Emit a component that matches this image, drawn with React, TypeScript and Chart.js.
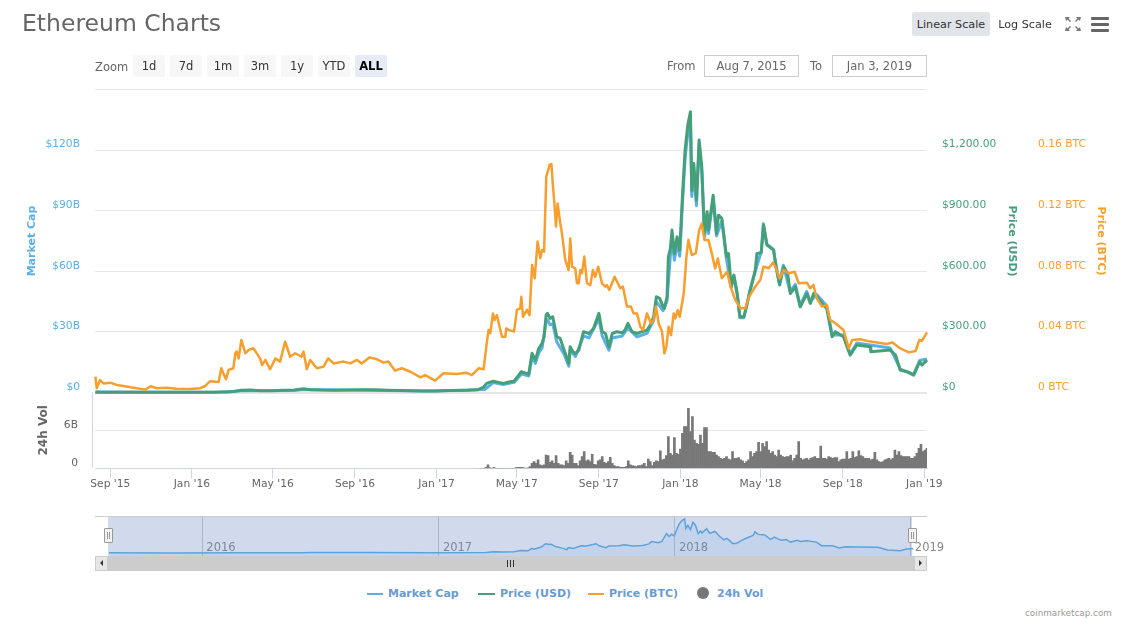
import React, { useEffect, useRef } from "react";
import { Chart, registerables } from "chart.js";

Chart.register(...registerables);

// All series: [days since Aug 7 2015, value]
const priceBtc: [number, number][] = [
  [2.6, .0104], [4.6, .0028], [9.6, .0082], [14.6, .006], [24.5, .0065], [34.5, .005], [44.5, .0043], [59.5, .0032], [77, .0019], [85.4, .0041], [94.4, .0028], [109, .0032], [124, .0025], [144, .0023], [159, .0028], [167, .0043], [174, .0074], [187, .007], [191, .016], [194, .0127], [198, .0087], [202, .0149], [209, .016], [212, .0259], [214, .027], [217, .0225], [221, .0347], [227, .0259], [232, .0281], [239, .0292], [249, .0225], [252, .0181], [257, .0215], [264, .0153], [272, .0225], [279, .0204], [286.5, .0336], [294, .0236], [301.5, .0259], [311, .0236], [314, .027], [319, .0153], [324, .0215], [334, .016], [344, .0171], [351, .0225], [359, .0192], [374, .0204], [384, .0192], [394, .0215], [401, .0192], [413, .0232], [424, .0219], [434, .0197], [441, .0204], [451, .0144], [461, .016], [474, .0137], [489, .01], [496, .0115], [511, .0078], [523.5, .0127], [543, .0122], [558, .013], [566, .0115], [576, .016],
  [583.5, .0153], [586, .0247], [589.5, .0369], [591, .0413], [593.5, .0391], [597.5, .0522], [600, .0478], [603.4, .0511], [607.4, .0434], [611, .0368], [616, .0368], [617.4, .0423], [621, .0413], [629, .0402], [633.4, .0545], [638.4, .0556], [640, .0632], [642.4, .05], [648.3, .0545], [652.3, .0511], [656, .0842], [660, .0754], [664.3, .0996], [668.3, .0886], [671, .0941], [674, .093], [677.3, .1425], [682.3, .1502], [685, .1508], [687.3, .1359], [689.3, .1259], [691.8, .1095], [694.2, .1248], [698.2, .1117], [700.7, .1051], [705.7, .0875], [710.7, .0808], [713.2, .1017], [715.7, .0831], [720.7, .082], [723.2, .0721], [725.7, .0721], [728.2, .0808], [730.7, .0787], [734.2, .0897], [738.2, .0721], [743.2, .0709], [747.1, .0808], [750.6, .0764], [755, .083], [760.6, .0721], [765.6, .0699], [768, .0709], [771.6, .0677], [775.6, .0721], [779.6, .0764], [788, .0688], [792, .0699], [798, .0567], [804, .0567], [808, .0522], [813, .0522], [818, .0434], [822, .0413], [828, .0522], [834, .0456], [838, .0478], [841.5, .0567], [845.5, .0456], [850.5, .0402], [854, .0258], [857, .0302], [860.4, .0434], [864, .0379], [868, .0522], [870.4, .0489], [874, .0544], [877, .05], [883, .0654], [887, .0896], [890, .1006],
  [895, .0907], [901, .0918], [906, .107], [910, .1116], [914, .1006], [920, .1006], [925, .0918], [930, .0819], [934, .0885], [940, .0754], [948, .0797], [953, .0699], [960, .0611], [968, .0556], [975, .0556], [981, .0633], [990, .0699], [997.5, .0743], [1002.5, .0831], [1010, .082], [1016.5, .0857], [1020, .0831], [1026.5, .0754], [1032.5, .0809], [1040, .0787], [1049, .0797], [1055, .0721], [1067.4, .0725], [1072, .0688], [1077, .071], [1082, .0622], [1090, .0567], [1097, .0578], [1102, .0479], [1110, .0457], [1122, .0413], [1130, .0291], [1135, .0347], [1147, .0351], [1162, .0336], [1187, .032], [1195, .0331], [1207, .0291], [1220, .0265], [1230, .0274], [1235.5, .0347], [1239.5, .0342], [1247, .0397],
];

const priceUsd: [number, number][] = [
  [2.6, 2.8], [4.6, 1.2], [10, 1.3], [30, 1.3], [60, .9], [90, .9], [120, .9], [150, .95], [170, 1], [180, 1.5], [190, 2.5], [200, 4], [210, 5.5], [221, 11], [235, 12], [250, 9], [265, 9], [285, 11], [300, 13], [314, 19], [325, 14], [340, 12], [360, 11], [380, 12], [400, 13], [420, 13], [440, 11], [460, 10], [490, 8], [510, 8], [530, 10.5], [560, 11], [575, 14], [583, 25],
  [588, 45], [598, 56], [606, 50], [613, 45], [623, 53], [629, 56], [636, 86], [640, 103], [651, 91], [656, 194], [661, 160], [666, 218], [671, 243], [674, 276], [677, 383], [679, 392], [683, 367], [687, 375], [693, 276], [698, 268], [704, 210], [711, 144], [713, 226], [717, 202], [721, 193], [726, 210], [733, 301], [741, 292], [748, 317], [756, 392], [761, 301], [766, 292], [771, 226], [776, 292], [783, 301], [791, 296], [795, 309], [799.5, 342], [805.5, 301], [813, 292], [820.5, 301], [828, 309], [833, 334], [838, 375], [842, 474], [847, 466], [852, 425], [854, 416], [858, 474],
  [860, 672], [863, 713], [865.4, 804], [869, 688], [873, 771], [877, 705], [881, 969], [885, 1200], [889, 1324], [893, 1390], [895, 1000], [898, 1134], [902, 952], [906, 1250], [910, 1117], [914, 787], [918, 895], [920, 804], [927, 977], [932, 787], [935, 878], [940, 862], [947, 672], [950, 688], [954, 523], [958, 581], [963, 490], [967, 375], [973, 375], [977.5, 433], [982.5, 507], [990, 606], [992.5, 688], [999, 692], [1002.5, 829], [1007.5, 730], [1017.5, 705], [1021, 622], [1026.5, 532], [1032.5, 622], [1038.4, 590], [1042.5, 490], [1050, 523], [1057.4, 424], [1067.4, 490], [1072.4, 441], [1077.4, 490], [1082.4, 474], [1090, 441], [1097, 416], [1105, 276], [1110, 301], [1122, 276], [1132, 185], [1142, 235], [1162, 227], [1163, 202], [1192, 210], [1200, 185], [1207, 111], [1217, 103], [1227, 86], [1236, 152], [1239.5, 136], [1247, 160],
];

// Market cap, billions of USD
const marketCapB: [number, number][] = [
  [2.6, .2], [100, .07], [200, .3], [221, .85], [300, 1], [314, 1.5], [400, 1.1], [510, .7], [585, 1.5], [598, 4.9], [613, 3.9], [629, 5], [640, 9.2], [651, 8.2], [656, 17.5], [661, 14.4], [666, 19.7], [671, 22], [677, 35], [679, 36], [683, 33.5], [687, 34], [693, 25], [704, 19], [711, 13], [713, 20.8], [721, 17.8], [733, 28], [741, 27], [756, 36.5], [761, 28], [771, 21], [776, 27], [791, 28], [799.5, 32], [813, 27.5], [828, 29.3], [838, 35.7], [842, 45], [852, 40.5], [858, 45.3], [865, 77], [869, 65.5], [873, 74], [877, 67.5], [881, 93], [885, 116], [889, 128], [893, 135], [895, 97], [898, 110], [902, 92.5], [906, 122], [910, 109], [914, 77], [918, 87.5], [920, 78.7], [927, 96], [932, 77.5], [940, 85], [947, 66], [954, 52], [958, 57.5], [963, 48.5], [967, 37], [973, 37], [982, 50.5], [990, 60], [999, 69.8], [1002, 83.5], [1007, 73.5], [1017, 71], [1026, 54], [1032, 63], [1042, 50], [1050, 53.5], [1057, 43], [1067, 50], [1072, 45], [1082, 48.5], [1097, 42.8], [1105, 28.5], [1122, 28.5], [1132, 19.2], [1142, 24.5], [1162, 23.5], [1192, 22], [1207, 11.6], [1227, 9], [1236, 15.8], [1247, 16.6],
];

// 24h volume in billions of USD, one value every 3 days from day 578
const volumeStartDay = 578;
const volumeStepDays = 3;
const volumeB: number[] = [
  0, 0, 0, .16, .53, .11, 0, .16, 0, 0, 0, 0, 0, 0, 0, 0, 0, 0, .11, .16, .16, .16, .05, 0, .05, .26, .79, 1.05, .79, 1.32, .53, .42, .53, 2.1, 2, .95, 1.16, .79, 2, .79, .53, .53, .42, 1.16, .79, 2.52, 2.1, .79, .79, .42, 1.16, 1.84, 2.63, 1.16, 1.32, 1.05, 2.21, .63, .53, 1.16, 1.32, 1.84, .95, .79, 1.05, 1.74, .79, .42, .26, .26, .16, .16, .16, .26, 1.16, .53, .42, .37, .26, .42, .42, .53, .79, .26, 1.47, 1.05, .42, .95, 1.16, 1.05, 2.74, 1.32, 1.47, 2, 5, 2.37, 2.1, 4.84, 2.37, 2.21, 3.05, 5.52, 6.58, 6.58, 9.47, 5.79, 8.15, 4.47, 3.95, 3.79, 5.26, 3.95, 6.42, 6.42, 2.63, 2.63, 2.52, 2.52, 2.1, 1.84, 1.58, 1.47, 1.58, 1.84, 1.47, 1.32, 2.63, 1.58, 1.58, 1.68, 1.32, 1.16, .79, 1.05, 1.32, 2.63, 1.84, 2.37, 2.63, 4.1, 2.63, 3.95, 3.42, 4.21, 2.89, 2.37, 2.63, 2.1, 1.84, 2.89, 2.1, 1.84, 1.74, 1.84, 1.84, 2.1, 1.16, 1.58, 2.1, 4.21, 1.58, 1.32, 1.47, 1.58, 1.32, 1.58, 1.68, 1.84, 1.58, 1.58, 3.52, 1.58, 1.58, 1.47, 1.84, 1.68, 1.58, 1.68, 1.68, 1.05, 1.32, 1.47, 1.47, 2.63, 1.47, 1.58, 2.63, 1.68, 1.84, 2.74, 2, 1.84, 1.58, 1.58, 1.58, 1.32, 1.47, 2.52, 1.32, 1.05, .95, 1.05, 1.32, 1.47, 1.58, 1.32, 1.58, 2.89, 2.1, 2.63, 2, 1.84, 1.84, 1.84, 1.84, 1.58, 1.58, 1.84, 2.37, 3.16, 3.79, 2.63, 2.89, 3.16,
];

const xTickDays = [25, 147, 268, 391, 513, 633, 756, 878, 998, 1121, 1243];
const xTickLabels = ["Sep '15", "Jan '16", "May '16", "Sep '16", "Jan '17", "May '17", "Sep '17", "Jan '18", "May '18", "Sep '18", "Jan '19"];
const navTickDays = [147, 513, 878, 1243];
const navTickLabels = ["2016", "2017", "2018", "2019"];
const capTickLabels = ["$0", "$30B", "$60B", "$90B", "$120B", ""];
const usdTickLabels = ["$0", "$300.00", "$600.00", "$900.00", "$1,200.00", ""];
const btcTickLabels = ["0 BTC", "0.04 BTC", "0.08 BTC", "0.12 BTC", "0.16 BTC", ""];
const volTickLabels = ["0", "6B", ""];
const zoomButtons = ["1d", "7d", "1m", "3m", "1y", "YTD", "ALL"];

const FONT = '"DejaVu Sans", sans-serif';
const BLUE = "#5AB0E6";
const GREEN = "#45A07A";
const ORANGE = "#F79F2E";
const GRID = "#e6e6e6";
const AXIS = "#ccd6eb";

const pts = (a: [number, number][], k = 1) => a.map(([x, y]) => ({ x, y: y * k }));
// Fix the axis width and drop the tick padding that Chart.js adds to the plot margins.
const width = (w: number) => (s: any) => { s.width = w; s.paddingTop = 0; s.paddingBottom = 0; };
const height = (h: number) => (s: any) => { s.height = h; s.paddingLeft = 0; s.paddingRight = 0; };
const axisFont = { family: FONT, size: 10.7 };
const titleFont = { family: FONT, size: 11, weight: "bold" as const };

function App() {
  const mainRef = useRef<HTMLCanvasElement>(null);
  const volRef = useRef<HTMLCanvasElement>(null);
  const navRef = useRef<HTMLCanvasElement>(null);

  useEffect(() => {
    const main = new Chart(mainRef.current!, {
      type: "line",
      data: {
        datasets: [
          { label: "Price (BTC)", data: pts(priceBtc), yAxisID: "yBtc", borderColor: ORANGE, borderWidth: 2.5, order: 1 },
          { label: "Price (USD)", data: pts(priceUsd), yAxisID: "yUsd", borderColor: GREEN, borderWidth: 3, order: 2 },
          { label: "Market Cap", data: pts(marketCapB), yAxisID: "yCap", borderColor: BLUE, borderWidth: 3, order: 3 },
        ] as any,
      },
      options: {
        animation: false, responsive: false,
        layout: { padding: { top: 89.5, bottom: 7.5, left: 0, right: 0 } },
        elements: { point: { radius: 0 }, line: { tension: 0, borderJoinStyle: "round" } },
        datasets: { line: { clip: false } } as any,
        plugins: { legend: { display: false }, tooltip: { enabled: false } },
        scales: {
          x: { type: "linear", min: 2, max: 1247, display: false },
          yCap: {
            position: "left", min: 0, max: 150, afterFit: width(95), border: { display: false },
            grid: { color: GRID, lineWidth: (c: any) => (c.tick?.value === 0 ? 2 : 1), drawTicks: false },
            ticks: { stepSize: 30, color: BLUE, font: axisFont, padding: 15, labelOffset: -5.5, callback: (_v: any, i: number) => capTickLabels[i] },
            title: { display: true, text: "Market Cap", color: BLUE, font: titleFont, padding: { top: 26, bottom: 0 } },
          },
          yUsd: {
            position: "right", min: 0, max: 1500, afterFit: width(91), border: { display: false },
            grid: { display: false, drawTicks: false },
            ticks: { stepSize: 300, color: GREEN, font: axisFont, padding: 15, labelOffset: -5.5, callback: (_v: any, i: number) => usdTickLabels[i] },
            title: { display: true, text: "Price (USD)", color: GREEN, font: titleFont, padding: { top: 0, bottom: 0 } },
          },
          yBtc: {
            position: "right", min: 0, max: 0.2, afterFit: width(125), border: { display: false },
            grid: { display: false, drawTicks: false },
            ticks: { stepSize: 0.04, color: ORANGE, font: axisFont, padding: 20, labelOffset: -5.5, callback: (_v: any, i: number) => btcTickLabels[i] },
            title: { display: true, text: "Price (BTC)", color: ORANGE, font: titleFont, padding: { top: 36, bottom: 0 } },
          },
        } as any,
      },
    });

    const vol = new Chart(volRef.current!, {
      type: "bar",
      data: {
        datasets: [{
          label: "24h Vol",
          data: volumeB.map((y, i) => ({ x: volumeStartDay + i * volumeStepDays, y })),
          backgroundColor: "#777777", barThickness: 2, borderWidth: 0,
        }] as any,
      },
      options: {
        animation: false, responsive: false,
        layout: { padding: { top: 0.3, bottom: 0, left: 0, right: 216 } },
        plugins: { legend: { display: false }, tooltip: { enabled: false } },
        scales: {
          x: {
            type: "linear", min: 2, max: 1247, offset: false, afterFit: height(23.7),
            afterBuildTicks: (a: any) => { a.ticks = xTickDays.map((value) => ({ value })); },
            border: { color: AXIS, width: 1 },
            grid: { offset: false, drawOnChartArea: false, color: AXIS, tickLength: 10 },
            ticks: { autoSkip: false, maxRotation: 0, color: "#666", font: axisFont, padding: 0, callback: (_v: any, i: number) => xTickLabels[i] },
          },
          y: {
            min: 0, max: 12, afterFit: width(95), border: { display: false },
            grid: { color: (c: any) => (c.tick?.value === 6 ? GRID : "rgba(0,0,0,0)"), drawTicks: false },
            ticks: { stepSize: 6, color: "#666", font: axisFont, padding: 17, labelOffset: -5.5, callback: (_v: any, i: number) => volTickLabels[i] },
            title: { display: true, text: "24h Vol", color: "#666", font: { ...titleFont, size: 12 }, padding: { top: 37, bottom: 0 } },
          },
        } as any,
      },
    });

    const nav = new Chart(navRef.current!, {
      type: "line",
      data: {
        datasets: [{
          label: "Market Cap", data: pts(marketCapB), borderColor: BLUE, borderWidth: 1.5,
          fill: "start", backgroundColor: "rgba(90,176,230,0.12)",
        }] as any,
      },
      options: {
        animation: false, responsive: false,
        layout: { padding: { top: 6.5, bottom: 0, left: 95, right: 216 } },
        elements: { point: { radius: 0 }, line: { tension: 0 } },
        plugins: { legend: { display: false }, tooltip: { enabled: false } },
        scales: {
          x: {
            type: "linear", min: -19, max: 1268, afterFit: height(14),
            afterBuildTicks: (a: any) => { a.ticks = navTickDays.map((value) => ({ value })); },
            border: { display: false },
            grid: { color: "#c9ccd2", drawTicks: false },
            // mirror keeps Chart.js from clipping these in-plot labels to the axis box
            ticks: { mirror: true, autoSkip: false, maxRotation: 0, align: "start", color: "#888", font: { family: FONT, size: 11.5 }, padding: 1, labelOffset: 4, callback: (_v: any, i: number) => navTickLabels[i] },
          },
          y: { min: -12.3, max: 144.5, display: false },
        } as any,
      },
    });

    return () => { main.destroy(); vol.destroy(); nav.destroy(); };
  }, []);

  const abs = (left: number, top: number, w?: number, h?: number): React.CSSProperties => ({
    position: "absolute", left, top, width: w, height: h, boxSizing: "border-box",
  });
  const centered: React.CSSProperties = { display: "flex", alignItems: "center", justifyContent: "center", whiteSpace: "nowrap" };
  const legendText: React.CSSProperties = { fontSize: 11, fontWeight: 700, color: "#6a9bd1", whiteSpace: "nowrap", lineHeight: "17px" };

  return (
    <div style={{ position: "fixed", left: 0, top: 0, width: 1143, height: 634, background: "#fff", fontFamily: FONT, overflow: "hidden" }}>
      <canvas ref={mainRef} width={1143} height={400} style={{ ...abs(0, 0), display: "block" }} />
      <canvas ref={volRef} width={1143} height={100} style={{ ...abs(0, 392), display: "block" }} />
      <canvas ref={navRef} width={1143} height={60} style={{ ...abs(0, 510), display: "block" }} />

      {/* Title and toolbar */}
      <div style={{ ...abs(22, 8), fontSize: 23.5, color: "#666", whiteSpace: "nowrap", lineHeight: "30px" }}>Ethereum Charts</div>
      <div style={{ ...abs(912, 12, 78, 24), ...centered, background: "#e1e4e8", borderRadius: 2, fontSize: 11.2, color: "#333" }}>Linear Scale</div>
      <div style={{ ...abs(994, 12, 62, 24), ...centered, fontSize: 11.2, color: "#333" }}>Log Scale</div>
      <svg style={abs(1065, 17, 16, 14)} viewBox="0 0 16 14">
        <g fill="#777">
          <path d="M0 0h5L3.6 1.5 6 4 5 5 2.500 2.500 1 4z" />
          <path d="M16 0h-5l1.400 1.500L10 4l1 1 2.500-2.500L15 4z" />
          <path d="M0 14h5l-1.400-1.500L6 10 5 9l-2.500 2.500L1 10z" />
          <path d="M16 14h-5l1.400-1.500L10 10l1-1 2.500 2.500L15 10z" />
        </g>
      </svg>
      {[17, 23, 29].map((t) => (
        <div key={t} style={{ ...abs(1091, t, 18, 3.2), background: "#666", borderRadius: 1 }} />
      ))}

      <div style={{ ...abs(95, 56, 36, 22), fontSize: 11.5, color: "#666", display: "flex", alignItems: "center" }}>Zoom</div>
      {zoomButtons.map((b, i) => (
        <div key={b} style={{
          ...abs(133 + i * 37, 55, 32, 22), ...centered, borderRadius: 2, fontSize: 11.5,
          background: b === "ALL" ? "#e6ebf5" : "#f7f7f7", color: b === "ALL" ? "#000" : "#333",
          fontWeight: b === "ALL" ? 600 : 400,
        }}>{b}</div>
      ))}
      <div style={{ ...abs(667, 55, 32, 22), fontSize: 11.5, color: "#666", display: "flex", alignItems: "center" }}>From</div>
      <div style={{ ...abs(704, 55, 95, 22), ...centered, border: "1px solid #ccc", fontSize: 11.5, color: "#666" }}>Aug 7, 2015</div>
      <div style={{ ...abs(810, 55, 18, 22), fontSize: 11.5, color: "#666", display: "flex", alignItems: "center" }}>To</div>
      <div style={{ ...abs(832, 55, 95, 22), ...centered, border: "1px solid #ccc", fontSize: 11.5, color: "#666" }}>Jan 3, 2019</div>

      {/* Volume pane left rule */}
      <div style={{ ...abs(92, 392, 1, 76), background: AXIS }} />

      {/* Navigator overlay */}
      <div style={{ ...abs(95, 516, 832, 1), background: "#ccc" }} />
      <div style={{ ...abs(108, 517, 804, 39), background: "rgba(102,133,194,0.3)" }} />
      {[108, 912].map((x) => (
        <div key={x} style={{ ...abs(x - 4, 528, 9, 15), background: "#f2f2f2", border: "1px solid #999", borderRadius: 1 }}>
          <div style={{ ...abs(2, 3, 1, 7), background: "#999" }} />
          <div style={{ ...abs(4, 3, 1, 7), background: "#999" }} />
        </div>
      ))}

      {/* Scrollbar */}
      <div style={{ ...abs(95, 556, 832, 15), background: "#cccccc" }} />
      <div style={{ ...abs(95, 556, 13, 15), background: "#e6e6e6", border: "1px solid #ccc" }} />
      <div style={{ ...abs(914, 556, 13, 15), background: "#e6e6e6", border: "1px solid #ccc" }} />
      <div style={{ position: "absolute", left: 100, top: 560, width: 0, height: 0, borderTop: "3.5px solid transparent", borderBottom: "3.5px solid transparent", borderRight: "3.5px solid #333" }} />
      <div style={{ position: "absolute", left: 919, top: 560, width: 0, height: 0, borderTop: "3.5px solid transparent", borderBottom: "3.5px solid transparent", borderLeft: "3.5px solid #333" }} />
      {[507, 510, 513].map((x) => (
        <div key={x} style={{ ...abs(x, 560, 1, 7), background: "#333" }} />
      ))}

      {/* Legend */}
      <div style={{ ...abs(367, 593, 16, 2), background: BLUE }} />
      <div style={{ ...abs(388, 585), ...legendText }}>Market Cap</div>
      <div style={{ ...abs(478, 593, 17, 2), background: GREEN }} />
      <div style={{ ...abs(500, 585), ...legendText }}>Price (USD)</div>
      <div style={{ ...abs(588, 593, 16, 2), background: ORANGE }} />
      <div style={{ ...abs(609, 585), ...legendText }}>Price (BTC)</div>
      <div style={{ ...abs(697, 587, 12, 12), background: "#777", borderRadius: "50%" }} />
      <div style={{ ...abs(717, 585), ...legendText }}>24h Vol</div>

      <div style={{ ...abs(1025, 608, 90, 12), fontSize: 8.8, color: "#999", whiteSpace: "nowrap" }}>coinmarketcap.com</div>
    </div>
  );
}

export default App;
